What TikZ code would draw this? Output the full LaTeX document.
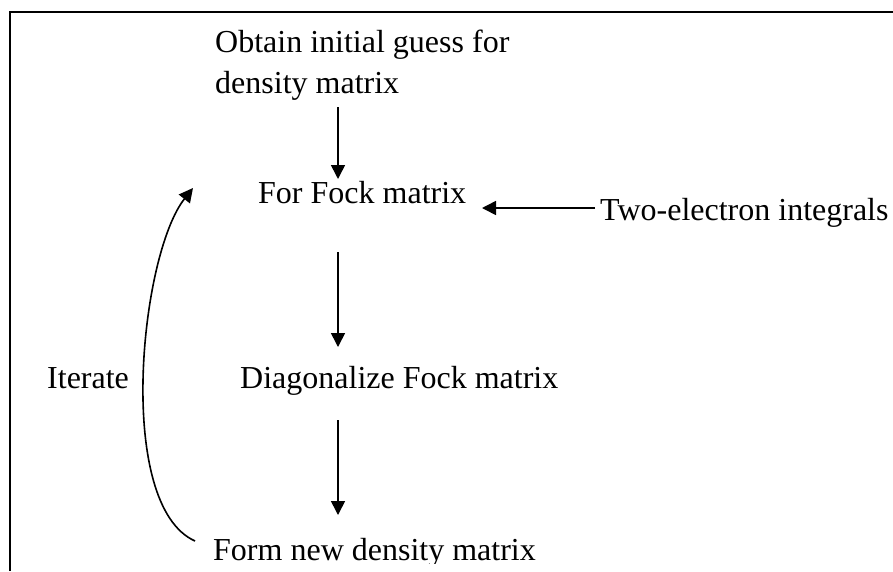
\documentclass[tikz,border=0pt]{standalone}
\usepackage{fontspec}
\setmainfont{Liberation Serif}
\usetikzlibrary{arrows.meta}
\begin{document}
\begin{tikzpicture}[x=1pt,y=-1pt,
  lbl/.style={anchor=base west,inner sep=0pt,font=\fontsize{32}{41}\selectfont},
  arr/.style={line width=1.6pt,-{Triangle[length=14pt,width=14pt]}},
  frame/.style={line width=2pt}]
\useasboundingbox (0,0) rectangle (893,571);
% frame (cut at right and bottom)
\draw[frame] (10,571) -- (10,12) -- (893,12);
% texts
\node[lbl,align=left] (obtain) at (215,93) {Obtain initial guess for\\density matrix};
\node[lbl] (fock) at (258,203) {For Fock matrix};
\node[lbl] (two) at (600,220) {Two-electron integrals};
\node[lbl] (iter) at (47,388) {Iterate};
\node[lbl] (diag) at (240,388) {Diagonalize Fock matrix};
\begin{scope}
\clip (0,0) rectangle (893,563);
\node[lbl] (form) at (213,560) {Form new density matrix};
\end{scope}
% connector ends
\coordinate (a1s) at (338,107);
\coordinate (a1e) at (338,179);
\coordinate (a2s) at (338,252);
\coordinate (a2e) at (338,347);
\coordinate (a3s) at (338,420);
\coordinate (a3e) at (338,515);
\coordinate (hs) at (595,208);
\coordinate (he) at (482,208);
\coordinate (cs) at (195,541);
\coordinate (ce) at (193,188);
\draw[arr] (a1s) -- (a1e);
\draw[arr] (a2s) -- (a2e);
\draw[arr] (a3s) -- (a3e);
\draw[arr] (hs) -- (he);
\draw[arr] (cs) .. controls (115,505) and (140,255) .. (ce);
\end{tikzpicture}
\end{document}
